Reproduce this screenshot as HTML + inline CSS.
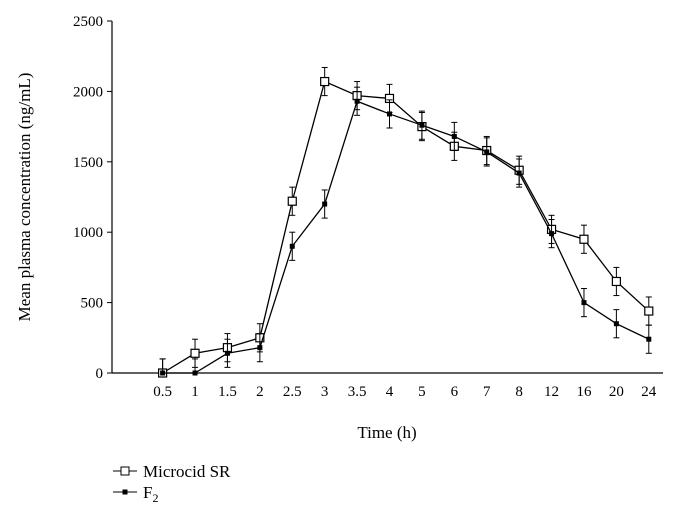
<!DOCTYPE html>
<html><head><meta charset="utf-8"><style>
body{margin:0;background:#fff;}
svg text{font-family:"Liberation Serif",serif;fill:#000;}
</style></head><body>
<svg id="chart" width="675" height="521"></svg>
<script>
const categories=["","0.5","1","1.5","2","2.5","3","3.5","4","5","6","7","8","12","16","20","24"];
const microcid=[null,0,140,180,250,1220,2070,1970,1950,1750,1610,1580,1440,1020,950,650,440];
const f2=[null,0,0,140,180,900,1200,1930,1840,1760,1680,1570,1420,990,500,350,240];
const errMicro=[null,100,100,100,100,100,100,100,100,100,100,100,100,100,100,100,100];
const errF2=[null,100,100,100,100,100,100,100,100,100,100,100,100,100,100,100,100];
const yTicks=[0,500,1000,1500,2000,2500];
const svg=document.getElementById('chart');
const NS='http://www.w3.org/2000/svg';
const L=112,R=663,T=21,B=373,yMax=2500;
const step=(R-L)/categories.length;
function x(i){return L+step*(i+0.5)+2;}
function y(v){return B-(v/yMax)*(B-T);}
function el(t,a,p){const e=document.createElementNS(NS,t);for(const k in a)e.setAttribute(k,a[k]);(p||svg).appendChild(e);return e;}
let e;
e=el('line',{x1:L,y1:T,x2:L,y2:B,stroke:'#000','stroke-width':1.2});


e=el('line',{x1:L,y1:B,x2:R,y2:B,stroke:'#000','stroke-width':1.2});


yTicks.forEach(v=>{
 el('line',{x1:L-5,y1:y(v),x2:L,y2:y(v),stroke:'#000'});
 const t=el('text',{x:L-9,y:y(v)+5,'text-anchor':'end','font-size':15});t.textContent=v;
 
 
});
categories.forEach((c,i)=>{
 if(!c)return;
 const t=el('text',{x:x(i),y:B+23,'text-anchor':'middle','font-size':15});t.textContent=c;
 
 
});
function series(vals,errs,name,filled){
 const g=el('g',{});
 
 
 let d='';vals.forEach((v,i)=>{if(v===null)return;d+=(d?'L':'M')+x(i)+','+y(v);});
 el('path',{d:d,fill:'none',stroke:'#000','stroke-width':1.3},g);
 vals.forEach((v,i)=>{if(v===null)return;
  const cx=x(i),e1=errs[i];
  el('line',{x1:cx,y1:y(Math.max(0,v-e1)),x2:cx,y2:y(v+e1),stroke:'#000'},g);
  el('line',{x1:cx-3,y1:y(v+e1),x2:cx+3,y2:y(v+e1),stroke:'#000'},g);
  if(v-e1>0)el('line',{x1:cx-3,y1:y(v-e1),x2:cx+3,y2:y(v-e1),stroke:'#000'},g);
  const m=filled?el('rect',{x:cx-2.5,y:y(v)-2.5,width:5,height:5,fill:'#000'},g):el('rect',{x:cx-4,y:y(v)-4,width:8,height:8,fill:'#fff',stroke:'#000','stroke-width':1.2},g);
  
  
 });
}
series(microcid,errMicro,'microcid-series',false);
series(f2,errF2,'f2-series',true);
let t=el('text',{x:0,y:0,'text-anchor':'middle','font-size':17,transform:'translate(30,197) rotate(-90)'});t.textContent='Mean plasma concentration (ng/mL)';


t=el('text',{x:387,y:438,'text-anchor':'middle','font-size':17});t.textContent='Time (h)';


let lg=el('g',{});


el('line',{x1:113,y1:471,x2:137,y2:471,stroke:'#000'},lg);
el('rect',{x:121,y:467,width:8,height:8,fill:'#fff',stroke:'#000'},lg);
t=el('text',{x:143,y:477,'font-size':17},lg);t.textContent='Microcid SR';


el('line',{x1:113,y1:492,x2:137,y2:492,stroke:'#000'},lg);
el('rect',{x:122.5,y:489.5,width:5,height:5,fill:'#000'},lg);
t=el('text',{x:143,y:498,'font-size':17},lg);t.innerHTML='F<tspan font-size="12" dy="4">2</tspan>';


</script>
</body></html>
